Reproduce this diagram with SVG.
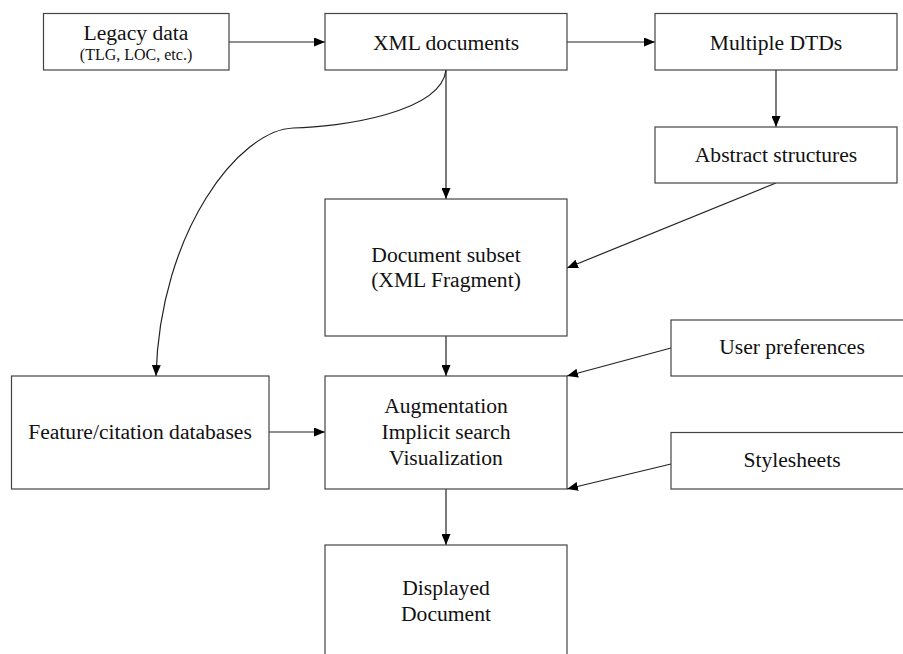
<svg xmlns="http://www.w3.org/2000/svg" width="903" height="654" viewBox="0 0 903 654">
<defs>
<marker id="ah" markerWidth="11" markerHeight="9" refX="11" refY="4.5" orient="auto" markerUnits="userSpaceOnUse">
<path d="M0,0 L11,4.5 L0,9 Z" fill="#000"/>
</marker>
<style>
.box{fill:#fff;stroke:#444;stroke-width:1.2}
.t{font-family:"Liberation Serif","Times New Roman",serif;font-size:21.6px;fill:#111;text-anchor:middle}
.s{font-size:16px}
.c{fill:none;stroke:#222;stroke-width:1.2;marker-end:url(#ah)}
</style>
</defs>
<rect width="903" height="654" fill="#fff"/>
<g id="connectors">
<line class="c" x1="229" y1="42" x2="325" y2="42"/>
<line class="c" x1="567" y1="42" x2="655" y2="42"/>
<line class="c" x1="776" y1="70" x2="776" y2="127"/>
<line class="c" x1="446" y1="70" x2="446" y2="199"/>
<line class="c" x1="776" y1="183" x2="567" y2="268"/>
<line class="c" x1="446" y1="336" x2="446" y2="376"/>
<line class="c" x1="671" y1="348" x2="567" y2="376"/>
<line class="c" x1="671" y1="464" x2="567" y2="489"/>
<line class="c" x1="446" y1="489" x2="446" y2="545"/>
<line class="c" x1="269" y1="432" x2="325" y2="432"/>
<path class="c" d="M446,70 C441,113 340,127 293,128 C240,130 160,230 156,376"/>
</g>
<g id="legacy"><rect class="box" x="43.5" y="13.5" width="185.5" height="56.5"/><text class="t" x="136" y="39.5">Legacy data</text><text class="t s" x="136" y="60">(TLG, LOC, etc.)</text></g>
<g id="xml"><rect class="box" x="325" y="13.5" width="242" height="56.5"/><text class="t" x="446" y="49.5">XML documents</text></g>
<g id="dtds"><rect class="box" x="655" y="13.5" width="242" height="56.5"/><text class="t" x="776" y="49.5">Multiple DTDs</text></g>
<g id="abstract"><rect class="box" x="655" y="127" width="242" height="56"/><text class="t" x="776" y="162">Abstract structures</text></g>
<g id="subset"><rect class="box" x="325" y="199" width="242" height="137"/><text class="t" x="446" y="261.5">Document subset</text><text class="t" x="446" y="286.5">(XML Fragment)</text></g>
<g id="feature"><rect class="box" x="11.5" y="376" width="257.5" height="113"/><text class="t" x="140" y="439">Feature/citation databases</text></g>
<g id="augment"><rect class="box" x="325" y="376" width="242" height="113"/><text class="t" x="446" y="413">Augmentation</text><text class="t" x="446" y="439">Implicit search</text><text class="t" x="446" y="465">Visualization</text></g>
<g id="userprefs"><rect class="box" x="671" y="320" width="242" height="56"/><text class="t" x="792" y="353.5">User preferences</text></g>
<g id="stylesheets"><rect class="box" x="671" y="432.5" width="242" height="56.5"/><text class="t" x="792" y="466.5">Stylesheets</text></g>
<g id="displayed"><rect class="box" x="325" y="545" width="242" height="120"/><text class="t" x="446" y="595">Displayed</text><text class="t" x="446" y="621">Document</text></g>
</svg>
